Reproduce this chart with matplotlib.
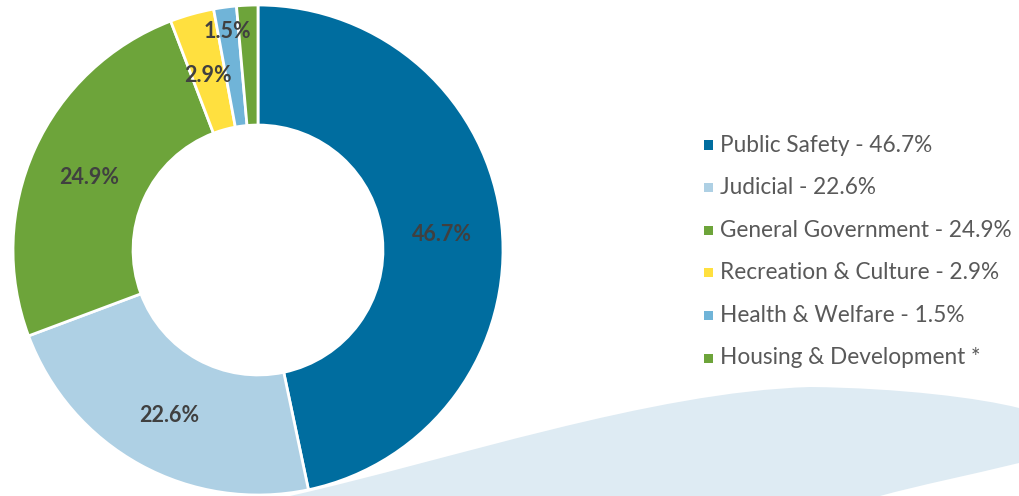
import matplotlib.pyplot as plt
import numpy as np
from matplotlib.path import Path
from matplotlib.patches import PathPatch, Rectangle

categories = ['Public Safety', 'Judicial', 'General Government',
              'Recreation & Culture', 'Health & Welfare', 'Housing & Development']
values = [46.7, 22.6, 24.9, 2.9, 1.5, 1.4]
slice_labels = ['46.7%', '22.6%', '24.9%', '2.9%', '1.5%', '']
legend_labels = ['Public Safety - 46.7%', 'Judicial - 22.6%', 'General Government - 24.9%',
                 'Recreation & Culture - 2.9%', 'Health & Welfare - 1.5%', 'Housing & Development *']
colors = ['#006d9f', '#aed0e4', '#6da43a', '#ffe03f', '#70b4d8', '#6da43a']

W, H = 1019, 496
fig = plt.figure(figsize=(W / 100, H / 100), dpi=100)
fig.patch.set_facecolor('white')

# background swoosh (pixel coords, top-left origin)
def px(x, y):
    return (x / W, 1 - y / H)

verts = [px(290, 496), px(450, 460), px(650, 392), px(810, 387),
         px(900, 388), px(980, 398), px(1019, 408),
         px(1019, 463),
         px(970, 475), px(920, 485), px(880, 496),
         px(290, 496)]
codes = [Path.MOVETO, Path.CURVE4, Path.CURVE4, Path.CURVE4,
         Path.CURVE4, Path.CURVE4, Path.CURVE4,
         Path.LINETO,
         Path.CURVE4, Path.CURVE4, Path.CURVE4,
         Path.CLOSEPOLY]
swoosh = PathPatch(Path(verts, codes), transform=fig.transFigure,
                   facecolor='#deebf3', edgecolor='none', zorder=0)
fig.patches.append(swoosh)

# donut
ax = fig.add_axes([13 / W, 1 / H, 490 / W, 490 / H])
ax.patch.set_alpha(0)
wedges, _ = ax.pie(values, colors=colors, startangle=90, counterclock=False,
                   radius=1.0,
                   wedgeprops=dict(width=0.49, edgecolor='white', linewidth=2))
ax.set_xlim(-1, 1)
ax.set_ylim(-1, 1)
ax.set_aspect('equal')
ax.axis('off')

cum = np.cumsum([0] + values)
total = sum(values)
for i, lab in enumerate(slice_labels):
    if not lab:
        continue
    mid = (cum[i] + cum[i + 1]) / 2 / total
    ang = np.deg2rad(90 - mid * 360)
    r = 0.755 if values[i] > 2 else 0.915
    ax.text(r * np.cos(ang), r * np.sin(ang) - 0.015, lab, ha='center',
            va='center', fontsize=15.5, fontweight='bold', color='#404040',
            family='Lato')

# legend
for i, lab in enumerate(legend_labels):
    yc = 145 + 42.6 * i
    fig.patches.append(Rectangle(px(704, yc + 4.5), 9 / W, 9 / H,
                                 transform=fig.transFigure,
                                 facecolor=colors[i], edgecolor='none'))
    x0, y0 = px(720, yc)
    fig.text(x0, y0, lab, ha='left', va='center', fontsize=16.3,
             color='#595959', family='Lato')

fig.savefig('out.png', dpi=100, facecolor='white')
